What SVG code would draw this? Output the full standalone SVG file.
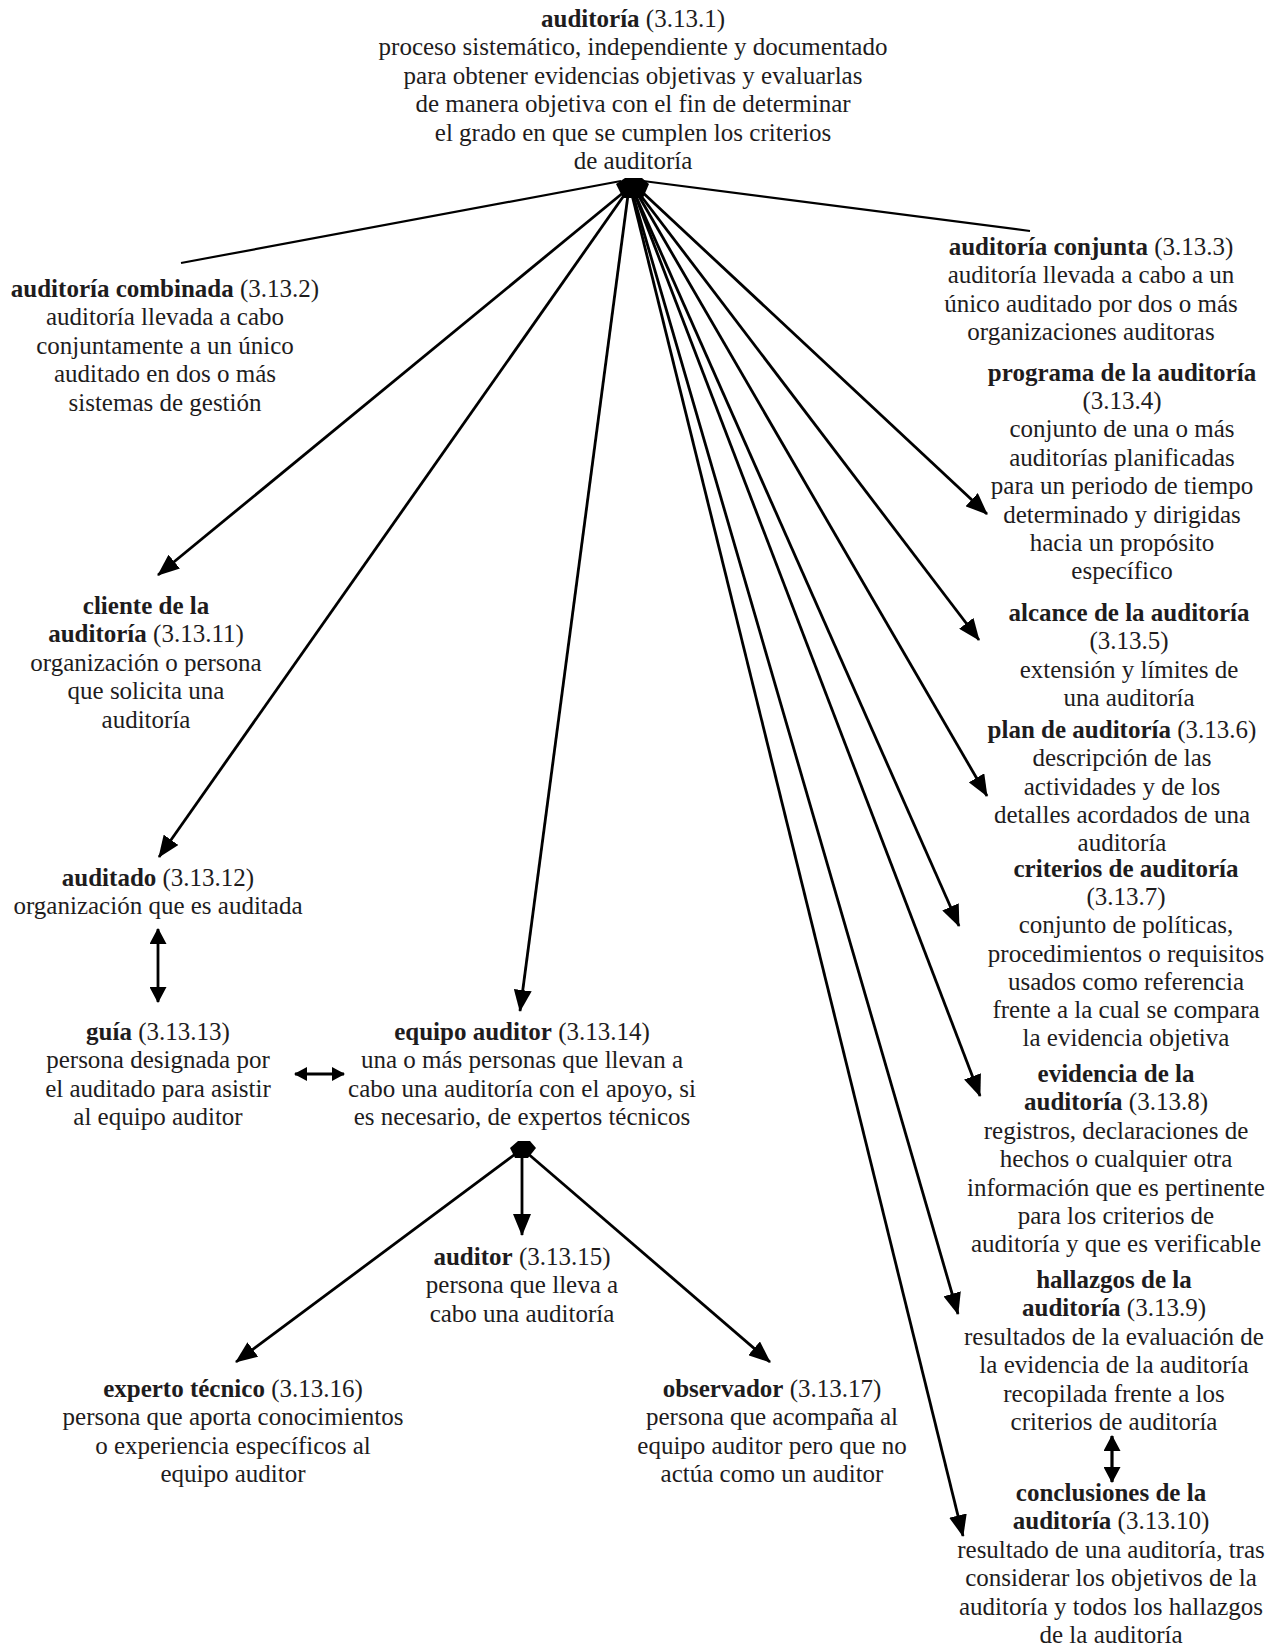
<svg xmlns="http://www.w3.org/2000/svg" width="1281" height="1648" viewBox="0 0 1281 1648">
<defs>
<style>
text{font-family:"Liberation Serif","Times New Roman",serif;font-size:25px;fill:#1e1c1d;text-anchor:middle}
.b{font-weight:bold}
.ln{stroke:#000;stroke-width:2.8;fill:none}
.thin{stroke:#000;stroke-width:2.2;fill:none}
.a{marker-end:url(#ah)}
.hub{fill:#000}
</style>
<marker id="ah" viewBox="0 0 22 18" refX="21" refY="9" markerWidth="22" markerHeight="18" markerUnits="userSpaceOnUse" orient="auto-start-reverse"><path d="M0,0 L22,9 L0,18 z" fill="#000"/></marker>
<marker id="ah2" viewBox="0 0 16 17" refX="15" refY="8.5" markerWidth="16" markerHeight="17" markerUnits="userSpaceOnUse" orient="auto-start-reverse"><path d="M0,0 L16,8.5 L0,17 z" fill="#000"/></marker>
<marker id="ah3" viewBox="0 0 13 14" refX="12" refY="7" markerWidth="13" markerHeight="14" markerUnits="userSpaceOnUse" orient="auto-start-reverse"><path d="M0,0 L13,7 L0,14 z" fill="#000"/></marker>
</defs>
<rect width="1281" height="1648" fill="#fff"/>

<g id="connectors">
<line class="thin" x1="621" y1="181" x2="181" y2="263"/>
<line class="thin" x1="643" y1="181" x2="1030" y2="231"/>
<line class="ln a" x1="624" y1="192" x2="158" y2="575"/>
<line class="ln a" x1="625" y1="194" x2="159" y2="857"/>
<line class="ln a" x1="628" y1="195" x2="520" y2="1011"/>
<line class="ln a" x1="640" y1="190" x2="987" y2="514"/>
<line class="ln a" x1="638" y1="192" x2="979" y2="640"/>
<line class="ln a" x1="637" y1="193" x2="987" y2="796"/>
<line class="ln a" x1="635" y1="194" x2="959" y2="926"/>
<line class="ln a" x1="635" y1="195" x2="980" y2="1096"/>
<line class="ln a" x1="633" y1="195" x2="958" y2="1314"/>
<line class="ln a" x1="632" y1="195" x2="963" y2="1536"/>
<polygon class="hub" points="616,184 625,178 642,178 649,184 643,198 623,198"/>
<line class="ln" x1="158" y1="929" x2="158" y2="1002" style="marker-start:url(#ah2);marker-end:url(#ah2)"/>
<line class="ln" x1="295" y1="1074" x2="344" y2="1074" style="marker-start:url(#ah3);marker-end:url(#ah3)"/>
<line class="ln" x1="1112" y1="1436" x2="1112" y2="1482" style="stroke-width:3.2;marker-start:url(#ah2);marker-end:url(#ah2)"/>
<line class="ln a" x1="522" y1="1152" x2="522" y2="1235"/>
<line class="ln a" x1="518" y1="1152" x2="236" y2="1362"/>
<line class="ln a" x1="526" y1="1152" x2="770" y2="1362"/>
<polygon class="hub" points="510,1148 518,1141 530,1141 536,1148 528,1158 515,1158"/>
</g>

<g id="n1"><text x="633" y="27"><tspan class="b">auditoría</tspan> (3.13.1)<tspan x="633" dy="28.4">proceso sistemático, independiente y documentado</tspan><tspan x="633" dy="28.4">para obtener evidencias objetivas y evaluarlas</tspan><tspan x="633" dy="28.4">de manera objetiva con el fin de determinar</tspan><tspan x="633" dy="28.4">el grado en que se cumplen los criterios</tspan><tspan x="633" dy="28.4">de auditoría</tspan></text></g>

<g id="n2"><text x="165" y="297"><tspan class="b">auditoría combinada</tspan> (3.13.2)<tspan x="165" dy="28.4">auditoría llevada a cabo</tspan><tspan x="165" dy="28.4">conjuntamente a un único</tspan><tspan x="165" dy="28.4">auditado en dos o más</tspan><tspan x="165" dy="28.4">sistemas de gestión</tspan></text></g>

<g id="n3"><text x="1091" y="255"><tspan class="b">auditoría conjunta</tspan> (3.13.3)<tspan x="1091" dy="28.4">auditoría llevada a cabo a un</tspan><tspan x="1091" dy="28.4">único auditado por dos o más</tspan><tspan x="1091" dy="28.4">organizaciones auditoras</tspan></text></g>

<g id="n4"><text x="1122" y="380.5"><tspan class="b">programa de la auditoría</tspan><tspan x="1122" dy="28.4">(3.13.4)</tspan><tspan x="1122" dy="28.4">conjunto de una o más</tspan><tspan x="1122" dy="28.4">auditorías planificadas</tspan><tspan x="1122" dy="28.4">para un periodo de tiempo</tspan><tspan x="1122" dy="28.4">determinado y dirigidas</tspan><tspan x="1122" dy="28.4">hacia un propósito</tspan><tspan x="1122" dy="28.4">específico</tspan></text></g>

<g id="n5"><text x="1129" y="621"><tspan class="b">alcance de la auditoría</tspan><tspan x="1129" dy="28.4">(3.13.5)</tspan><tspan x="1129" dy="28.4">extensión y límites de</tspan><tspan x="1129" dy="28.4">una auditoría</tspan></text></g>

<g id="n6"><text x="1122" y="738"><tspan class="b">plan de auditoría</tspan> (3.13.6)<tspan x="1122" dy="28.4">descripción de las</tspan><tspan x="1122" dy="28.4">actividades y de los</tspan><tspan x="1122" dy="28.4">detalles acordados de una</tspan><tspan x="1122" dy="28">auditoría</tspan></text></g>

<g id="n7"><text x="1126" y="877"><tspan class="b">criterios de auditoría</tspan><tspan x="1126" dy="28.2">(3.13.7)</tspan><tspan x="1126" dy="28.2">conjunto de políticas,</tspan><tspan x="1126" dy="28.2">procedimientos o requisitos</tspan><tspan x="1126" dy="28.2">usados como referencia</tspan><tspan x="1126" dy="28.2">frente a la cual se compara</tspan><tspan x="1126" dy="28.2">la evidencia objetiva</tspan></text></g>

<g id="n8"><text x="1116" y="1082"><tspan class="b">evidencia de la</tspan><tspan x="1116" dy="28.4"><tspan class="b">auditoría</tspan> (3.13.8)</tspan><tspan x="1116" dy="28.4">registros, declaraciones de</tspan><tspan x="1116" dy="28.4">hechos o cualquier otra</tspan><tspan x="1116" dy="28.4">información que es pertinente</tspan><tspan x="1116" dy="28.4">para los criterios de</tspan><tspan x="1116" dy="28.4">auditoría y que es verificable</tspan></text></g>

<g id="n9"><text x="1114" y="1288"><tspan class="b">hallazgos de la</tspan><tspan x="1114" dy="28.4"><tspan class="b">auditoría</tspan> (3.13.9)</tspan><tspan x="1114" dy="28.4">resultados de la evaluación de</tspan><tspan x="1114" dy="28.4">la evidencia de la auditoría</tspan><tspan x="1114" dy="28.4">recopilada frente a los</tspan><tspan x="1114" dy="28.4">criterios de auditoría</tspan></text></g>

<g id="n10"><text x="1111" y="1501"><tspan class="b">conclusiones de la</tspan><tspan x="1111" dy="28.4"><tspan class="b">auditoría</tspan> (3.13.10)</tspan><tspan x="1111" dy="28.4">resultado de una auditoría, tras</tspan><tspan x="1111" dy="28.4">considerar los objetivos de la</tspan><tspan x="1111" dy="28.4">auditoría y todos los hallazgos</tspan><tspan x="1111" dy="28.4">de la auditoría</tspan></text></g>

<g id="n11"><text x="146" y="614"><tspan class="b">cliente de la</tspan><tspan x="146" dy="28.4"><tspan class="b">auditoría</tspan> (3.13.11)</tspan><tspan x="146" dy="28.4">organización o persona</tspan><tspan x="146" dy="28.4">que solicita una</tspan><tspan x="146" dy="28.4">auditoría</tspan></text></g>

<g id="n12"><text x="158" y="886"><tspan class="b">auditado</tspan> (3.13.12)<tspan x="158" dy="28.4">organización que es auditada</tspan></text></g>

<g id="n13"><text x="158" y="1040"><tspan class="b">guía</tspan> (3.13.13)<tspan x="158" dy="28.4">persona designada por</tspan><tspan x="158" dy="28.4">el auditado para asistir</tspan><tspan x="158" dy="28.4">al equipo auditor</tspan></text></g>

<g id="n14"><text x="522" y="1040"><tspan class="b">equipo auditor</tspan> (3.13.14)<tspan x="522" dy="28.4">una o más personas que llevan a</tspan><tspan x="522" dy="28.4">cabo una auditoría con el apoyo, si</tspan><tspan x="522" dy="28.4">es necesario, de expertos técnicos</tspan></text></g>

<g id="n15"><text x="522" y="1265"><tspan class="b">auditor</tspan> (3.13.15)<tspan x="522" dy="28.4">persona que lleva a</tspan><tspan x="522" dy="28.4">cabo una auditoría</tspan></text></g>

<g id="n16"><text x="233" y="1397"><tspan class="b">experto técnico</tspan> (3.13.16)<tspan x="233" dy="28.4">persona que aporta conocimientos</tspan><tspan x="233" dy="28.4">o experiencia específicos al</tspan><tspan x="233" dy="28.4">equipo auditor</tspan></text></g>

<g id="n17"><text x="772" y="1397"><tspan class="b">observador</tspan> (3.13.17)<tspan x="772" dy="28.4">persona que acompaña al</tspan><tspan x="772" dy="28.4">equipo auditor pero que no</tspan><tspan x="772" dy="28.4">actúa como un auditor</tspan></text></g>
</svg>
